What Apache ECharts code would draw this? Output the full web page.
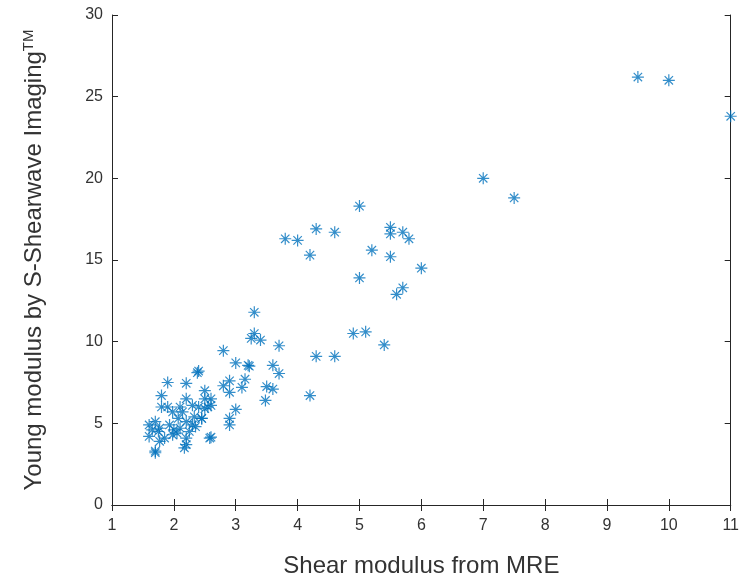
<!DOCTYPE html>
<html>
<head>
<meta charset="utf-8">
<script src="https://cdn.jsdelivr.net/npm/echarts@6/dist/echarts.min.js"></script>
<style>
  html, body { margin: 0; padding: 0; background: #fff; }
</style>
</head>
<body>
<div id="chart" style="width: 742px;height: 583px;"></div>
<script>
// shear modulus (MRE) vs young modulus (SSI)
var shearMRE = [
  9.5, 10.0, 11.0, 7.0, 7.5, 5.0, 5.5, 5.5, 5.7, 5.8,
  4.6, 5.2, 5.5, 6.0, 5.0, 5.7, 5.6, 4.9, 5.1, 5.4,
  4.6, 3.8, 4.0, 4.3, 4.2, 3.3, 3.3, 3.25, 3.4, 3.7,
  2.8, 3.0, 3.2, 3.22, 4.3, 3.6, 3.7, 2.4, 2.38, 2.9,
  2.8, 3.15, 3.1, 3.5, 3.6, 2.5, 2.9, 4.2, 1.9, 2.2,
  1.8, 2.2, 2.5, 2.6, 3.48, 1.8, 1.9, 2.1, 2.3, 2.4,
  2.6, 2.5, 3.0, 2.9, 2.9, 2.6, 2.45, 1.6, 1.7, 1.6,
  1.77, 1.77, 1.93, 1.98, 2.07, 2.1, 2.2, 2.25, 2.33, 2.45,
  2.3, 2.2, 2.17, 1.7, 1.7, 2.58, 1.85, 1.98, 2.14, 2.55,
  2.2, 1.75, 2.0, 2.35, 2.05, 1.65
]
var youngSSI = [
  26.2, 26.0, 23.8, 20.0, 18.8, 18.3, 17.0, 16.6, 16.7, 16.3,
  16.7, 15.6, 15.2, 14.5, 13.9, 13.3, 12.9, 10.5, 10.6, 9.8,
  9.1, 16.3, 16.2, 16.9, 15.3, 11.8, 10.5, 10.2, 10.1, 9.75,
  9.45, 8.7, 8.55, 8.5, 9.1, 8.55, 8.05, 8.2, 8.1, 7.6,
  7.3, 7.7, 7.2, 7.25, 7.1, 7.0, 6.9, 6.7, 7.5, 7.45,
  6.7, 6.5, 6.5, 6.5, 6.4, 6.0, 6.0, 6.0, 6.1, 6.0,
  6.1, 5.9, 5.85, 5.3, 4.9, 4.15, 5.3, 4.9, 5.1, 4.2,
  4.7, 3.9, 4.9, 4.3, 5.3, 4.7, 5.1, 4.5, 5.4, 5.3,
  4.9, 4.1, 3.5, 3.3, 3.2, 4.1, 4.1, 5.7, 5.7, 6.0,
  3.7, 4.5, 4.6, 4.8, 4.4, 4.6
]
var xTicks = { min: 1, max: 11, interval: 1 }
var yTicks = { min: 0, max: 30, interval: 5 }

var points = shearMRE.map(function(x, i) {
  return [x, youngSSI[i]]
})

var asterisk = 'path://M0,-10L0,10M-10,0L10,0M-7,-7L7,7M-7,7L7,-7'
var textCol = '#333333'
var lineCol = '#262626'

var chart = echarts.init(document.getElementById('chart'))
chart.setOption({
  animation: false,
  grid: {
    left: 112,
    right: 8,
    top: 15,
    bottom: 76
  },
  xAxis: [{
    type: 'value',
    min: xTicks.min,
    max: xTicks.max,
    interval: xTicks.interval,
    name: 'Shear modulus from MRE',
    nameLocation: 'middle',
    nameGap: 49,
    nameTextStyle: { fontSize: 24, color: textCol, fontFamily: 'Liberation Sans' },
    axisLine: { show: true, lineStyle: { color: lineCol, width: 1 }},
    axisTick: { show: true, inside: true, length: 6, lineStyle: { color: lineCol }},
    axisLabel: { fontSize: 16, color: textCol, margin: 13, fontFamily: 'Liberation Sans' },
    splitLine: { show: false }
  }, {
    type: 'value',
    position: 'top',
    min: xTicks.min,
    max: xTicks.max,
    interval: xTicks.interval,
    axisLine: { show: true, lineStyle: { color: lineCol, width: 1 }},
    axisTick: { show: true, inside: true, length: 6, lineStyle: { color: lineCol }},
    axisLabel: { show: false },
    splitLine: { show: false }
  }],
  yAxis: [{
    type: 'value',
    min: yTicks.min,
    max: yTicks.max,
    interval: yTicks.interval,
    name: 'Young modulus by S-Shearwave Imaging{sup|TM}',
    nameLocation: 'middle',
    nameGap: 64,
    nameTextStyle: {
      fontSize: 24,
      color: textCol,
      fontFamily: 'Liberation Sans',
      rich: {
        sup: { fontSize: 15, color: textCol, fontFamily: 'Liberation Sans', verticalAlign: 'bottom', padding: [0, 0, 12, 0] }
      }
    },
    axisLine: { show: true, lineStyle: { color: lineCol, width: 1 }},
    axisTick: { show: true, inside: true, length: 6, lineStyle: { color: lineCol }},
    axisLabel: { fontSize: 16, color: textCol, margin: 9, fontFamily: 'Liberation Sans' },
    splitLine: { show: false }
  }, {
    type: 'value',
    position: 'right',
    min: yTicks.min,
    max: yTicks.max,
    interval: yTicks.interval,
    axisLine: { show: true, lineStyle: { color: lineCol, width: 1 }},
    axisTick: { show: true, inside: true, length: 6, lineStyle: { color: lineCol }},
    axisLabel: { show: false },
    splitLine: { show: false }
  }],
  series: [{
    type: 'scatter',
    data: points,
    symbol: asterisk,
    symbolSize: 12,
    itemStyle: {
      color: 'rgba(0,0,0,0)',
      borderColor: '#0072BD',
      borderWidth: 1.2
    }
  }]
})
</script>
</body>
</html>
